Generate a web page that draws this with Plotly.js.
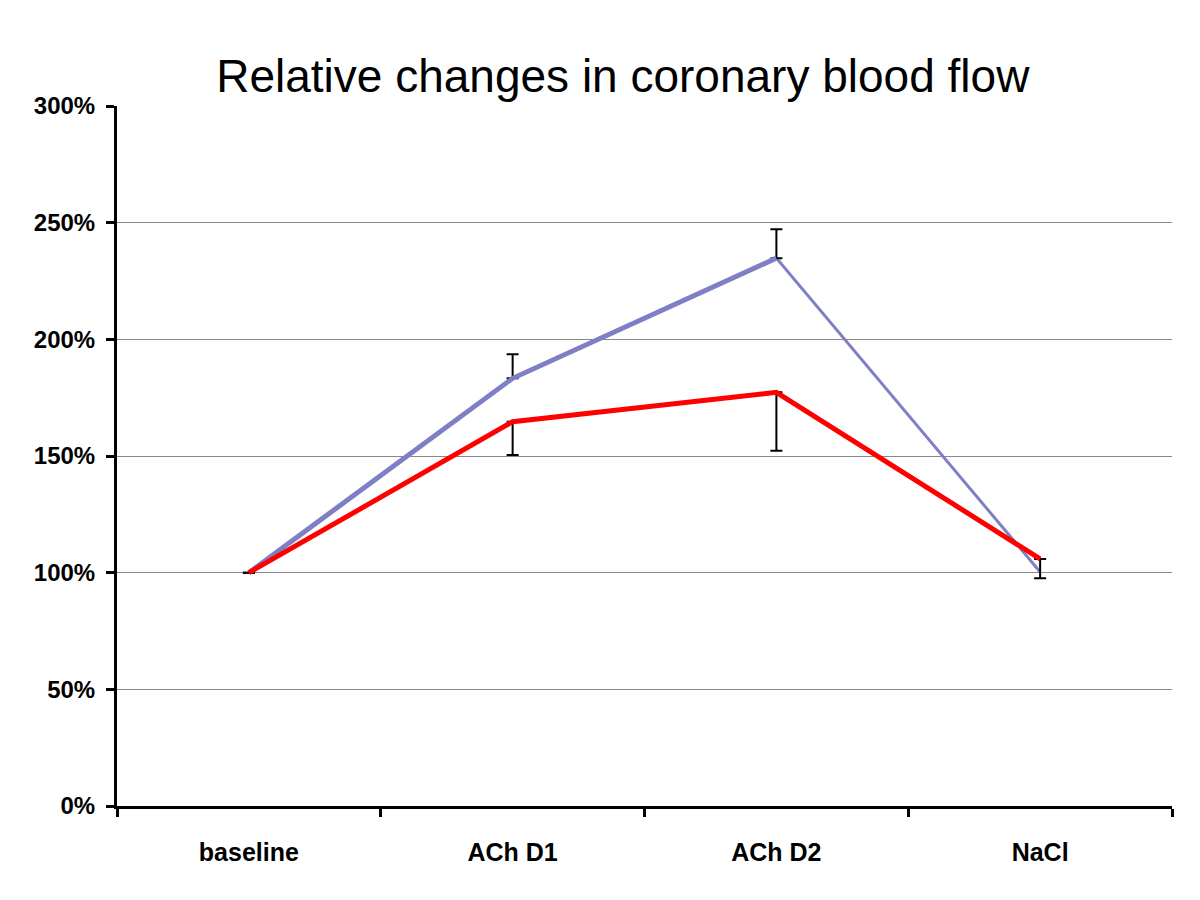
<!DOCTYPE html>
<html>
<head>
<meta charset="utf-8">
<script src="https://cdn.plot.ly/plotly-3.0.1.min.js"></script>
<style>html,body{margin:0;padding:0;background:#fff;}#chart{width:1200px;height:900px;}</style>
</head>
<body>
<div id="chart"></div>
<script>
const categories = ["baseline", "ACh D1", "ACh D2", "NaCl"];
const blueValues = [100, 183.3, 234.8, 100.3];
const blueErrPlus = [0, 10.3, 12.4, 0];
const redValues = [100, 164.7, 177.3, 105.9];
const redErrMinus = [0, 14.3, 25.0, 8.3];
const yTickVals = [0, 50, 100, 150, 200, 250, 300];
const yTickText = ["0%", "50%", "100%", "150%", "200%", "250%", "300%"];

const blueColor = "#7F7FC6";
const redColor = "#FF0000";

const traces = [
  {
    x: categories, y: blueValues, type: "scatter", mode: "lines",
    line: {color: blueColor, width: 3}, hoverinfo: "skip"
  },
  {
    x: categories.slice(0, 3), y: blueValues.slice(0, 3), type: "scatter", mode: "lines",
    line: {color: blueColor, width: 5},
    error_y: {type: "data", symmetric: false, array: blueErrPlus.slice(0, 3),
              arrayminus: [0, 0, 0], color: "#000", thickness: 2, width: 6}
  },
  {
    x: categories, y: redValues, type: "scatter", mode: "lines",
    line: {color: redColor, width: 5},
    error_y: {type: "data", symmetric: false, array: [0, 0, 0, 0],
              arrayminus: redErrMinus, color: "#000", thickness: 2, width: 6}
  }
];

const layout = {
  width: 1200, height: 900,
  paper_bgcolor: "#fff", plot_bgcolor: "#fff",
  margin: {l: 117, r: 28, t: 106, b: 94},
  showlegend: false,
  title: {
    text: "Relative changes in coronary blood flow",
    font: {family: "Liberation Sans, Arial, sans-serif", size: 46, color: "#000"},
    x: 0.519, xanchor: "center", y: 1 - 76/900, yanchor: "middle", yref: "container"
  },
  xaxis: {
    type: "category", range: [-0.5, 3.5],
    showline: true, linecolor: "#000", linewidth: 3,
    ticks: "outside", tickson: "boundaries", ticklen: 8, tickwidth: 3, tickcolor: "#000",
    showgrid: false, zeroline: false,
    tickfont: {family: "Liberation Sans, Arial, sans-serif", size: 25, color: "#000", weight: "bold"},
    ticklabelstandoff: 22
  },
  yaxis: {
    range: [0, 300], tickvals: yTickVals, ticktext: yTickText,
    showline: true, linecolor: "#000", linewidth: 3,
    ticks: "outside", ticklen: 8, tickwidth: 3, tickcolor: "#000",
    showgrid: true, gridcolor: "#888", gridwidth: 1, zeroline: false,
    tickfont: {family: "Liberation Sans, Arial, sans-serif", size: 24, color: "#000", weight: "bold"},
    ticklabelstandoff: 6
  }
};

Plotly.newPlot("chart", traces, layout, {displayModeBar: false, staticPlot: true});
</script>
</body>
</html>
